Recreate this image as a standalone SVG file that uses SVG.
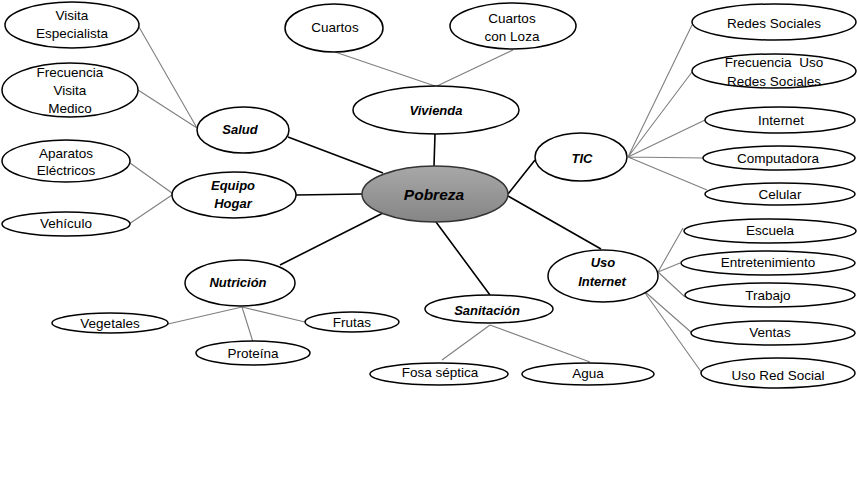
<svg xmlns="http://www.w3.org/2000/svg" width="857" height="501" viewBox="0 0 857 501">
<defs>
<linearGradient id="gp" x1="0" y1="0" x2="0" y2="1">
<stop offset="0" stop-color="#a8a8a8"/>
<stop offset="1" stop-color="#858585"/>
</linearGradient>
</defs>
<style>
.n{fill:#fff;stroke:#000;stroke-width:1.5}
.c{fill:url(#gp);stroke:#333;stroke-width:1.5}
.m{stroke:#000;stroke-width:1.6;fill:none}
.s{stroke:#7f7f7f;stroke-width:1.1;fill:none}
text{font-family:"Liberation Sans",Arial,sans-serif;font-size:13.5px;text-anchor:middle;fill:#000}
.b{font-weight:bold;font-style:italic;font-size:13px}
.p{font-weight:bold;font-style:italic;font-size:15.5px}
</style>
<rect width="857" height="501" fill="#fff"/>
<g id="connectors">
<path class="m" d="M288 137L383 173M296 195L362 194M435 134L434 166M508 194L535 160M508 196L601 249M436 222L490 295M383 213L280 265"/>
<path class="s" d="M139 27L197 128M138 90L197 128M130 163L172 193M129 224L172 195M335 52L435 86M513 50L437 86"/>
<path class="s" d="M628 157L692 25M628 157L692 72M628 157L705 120M628 157L703 158M628 157L707 190"/>
<path class="s" d="M658 272L683 228M658 272L680 263M658 272L685 297M643 290L692 333M643 290L702 373"/>
<path class="s" d="M490 325L442 360M490 325L590 362"/>
<path class="s" d="M242 307L168 324M242 307L305 322M242 307L253 342"/>
</g>
<g id="pobreza"><ellipse class="c" cx="435" cy="194" rx="73" ry="28"/><text class="p" x="434" y="200">Pobreza</text></g>
<g id="salud"><ellipse class="n" cx="243" cy="130" rx="46" ry="23"/><text class="b" x="240" y="134">Salud</text></g>
<g id="visita-especialista"><ellipse class="n" cx="72" cy="25" rx="67" ry="23"/><text x="72" y="20">Visita</text><text x="72" y="38">Especialista</text></g>
<g id="frecuencia-visita-medico"><ellipse class="n" cx="70" cy="90" rx="68" ry="27"/><text x="70" y="77">Frecuencia</text><text x="70" y="95">Visita</text><text x="70" y="113">Medico</text></g>
<g id="equipo-hogar"><ellipse class="n" cx="234" cy="195" rx="62" ry="23"/><text class="b" x="233" y="190">Equipo</text><text class="b" x="233" y="208">Hogar</text></g>
<g id="aparatos-electricos"><ellipse class="n" cx="66" cy="161" rx="64" ry="21"/><text x="66" y="158">Aparatos</text><text x="66" y="175">Eléctricos</text></g>
<g id="vehiculo"><ellipse class="n" cx="66" cy="224" rx="64" ry="12"/><text x="66" y="228">Vehículo</text></g>
<g id="vivienda"><ellipse class="n" cx="436" cy="110" rx="83" ry="24"/><text class="b" x="436" y="115">Vivienda</text></g>
<g id="cuartos"><ellipse class="n" cx="334" cy="28" rx="49" ry="24"/><text x="335" y="32">Cuartos</text></g>
<g id="cuartos-con-loza"><ellipse class="n" cx="513" cy="26" rx="63" ry="23"/><text x="512" y="23">Cuartos</text><text x="512" y="41">con Loza</text></g>
<g id="tic"><ellipse class="n" cx="581" cy="157" rx="46" ry="24"/><text class="b" x="582" y="163">TIC</text></g>
<g id="redes-sociales"><ellipse class="n" cx="774" cy="22" rx="82" ry="18"/><text x="774" y="28">Redes Sociales</text></g>
<g id="frecuencia-uso-redes"><ellipse class="n" cx="774" cy="71" rx="82" ry="17"/><text x="774" y="67" xml:space="preserve">Frecuencia  Uso</text><text x="774" y="86">Redes Sociales</text></g>
<g id="internet"><ellipse class="n" cx="780" cy="120" rx="75" ry="13"/><text x="781" y="125">Internet</text></g>
<g id="computadora"><ellipse class="n" cx="779" cy="158" rx="76" ry="12"/><text x="778" y="163">Computadora</text></g>
<g id="celular"><ellipse class="n" cx="780" cy="194" rx="75" ry="11"/><text x="780" y="199">Celular</text></g>
<g id="uso-internet"><ellipse class="n" cx="603" cy="276" rx="55" ry="26"/><text class="b" x="603" y="267">Uso</text><text class="b" x="602" y="286">Internet</text></g>
<g id="escuela"><ellipse class="n" cx="770" cy="231" rx="86" ry="12"/><text x="770" y="235">Escuela</text></g>
<g id="entretenimiento"><ellipse class="n" cx="768" cy="263" rx="87" ry="12"/><text x="768" y="267">Entretenimiento</text></g>
<g id="trabajo"><ellipse class="n" cx="770" cy="295" rx="85" ry="12"/><text x="768" y="300">Trabajo</text></g>
<g id="ventas"><ellipse class="n" cx="773" cy="333" rx="82" ry="12"/><text x="770" y="337">Ventas</text></g>
<g id="uso-red-social"><ellipse class="n" cx="778" cy="373" rx="77" ry="15"/><text x="778" y="380">Uso Red Social</text></g>
<g id="sanitacion"><ellipse class="n" cx="489" cy="309" rx="64" ry="14"/><text class="b" x="487" y="315">Sanitación</text></g>
<g id="fosa-septica"><ellipse class="n" cx="439" cy="374" rx="69" ry="11"/><text x="440" y="377">Fosa séptica</text></g>
<g id="agua"><ellipse class="n" cx="588" cy="374" rx="66" ry="11"/><text x="588" y="378">Agua</text></g>
<g id="nutricion"><ellipse class="n" cx="240" cy="283" rx="55" ry="23"/><text class="b" x="238" y="287">Nutrición</text></g>
<g id="vegetales"><ellipse class="n" cx="110" cy="323" rx="58" ry="10"/><text x="110" y="328">Vegetales</text></g>
<g id="frutas"><ellipse class="n" cx="352" cy="322" rx="47" ry="10"/><text x="352" y="327">Frutas</text></g>
<g id="proteina"><ellipse class="n" cx="253" cy="353" rx="57" ry="12"/><text x="253" y="358">Proteína</text></g>
</svg>
